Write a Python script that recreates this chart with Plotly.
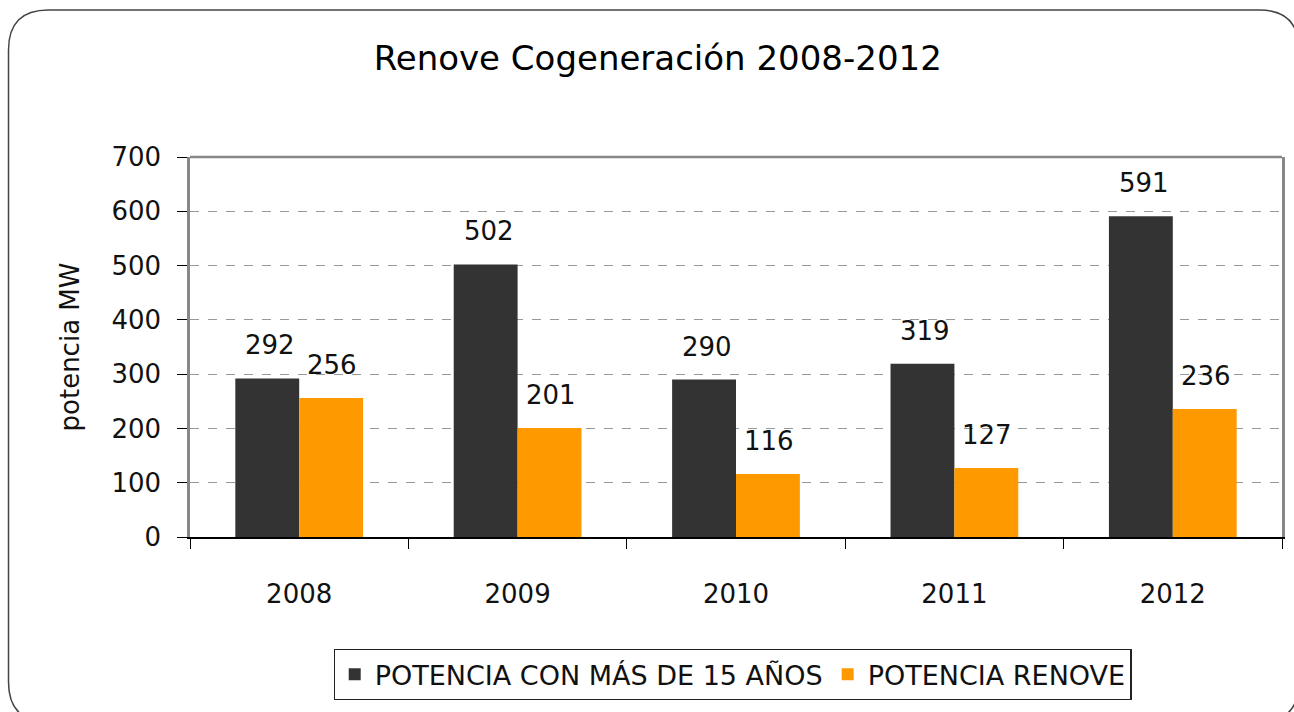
import plotly.graph_objects as go

# data
years = ["2008", "2009", "2010", "2011", "2012"]
potencia_15 = [292, 502, 290, 319, 591]
potencia_renove = [256, 201, 116, 127, 236]
series_names = ["POTENCIA CON MÁS DE 15 AÑOS", "POTENCIA RENOVE"]
y_ticks = [0, 100, 200, 300, 400, 500, 600, 700]

W, H = 1294, 712
L, R, T, B = 190, 1285, 157, 537   # plot area in pixels


def px(x):
    return (x - L) / (R - L)


def py(y):
    return (B - y) / (B - T)


font = "DejaVu Sans"
fig = go.Figure()
fig.add_trace(go.Bar(x=years, y=potencia_15, name=series_names[0],
                     marker_color="#333333", marker_line_width=0))
fig.add_trace(go.Bar(x=years, y=potencia_renove, name=series_names[1],
                     marker_color="#FF9900", marker_line_width=0))

# value labels above the bars (x given as category index)
for vals, shift in [(potencia_15, -29), (potencia_renove, 33)]:
    for i, v in enumerate(vals):
        fig.add_annotation(x=i, y=v, text=str(v), showarrow=False,
                           xshift=shift, yshift=33, yanchor="middle",
                           font=dict(family=font, size=26, color="#111"))

# rounded outer frame
x0, y0, x1, y1, r = 8, 10, 1302, 722, 40
path = (f"M {px(x0):.4f},{py(y0 + r):.4f} Q {px(x0):.4f},{py(y0):.4f} {px(x0 + r):.4f},{py(y0):.4f} "
        f"L {px(x1 - r):.4f},{py(y0):.4f} Q {px(x1):.4f},{py(y0):.4f} {px(x1):.4f},{py(y0 + r):.4f} "
        f"L {px(x1):.4f},{py(y1 - r):.4f} Q {px(x1):.4f},{py(y1):.4f} {px(x1 - r):.4f},{py(y1):.4f} "
        f"L {px(x0 + r):.4f},{py(y1):.4f} Q {px(x0):.4f},{py(y1):.4f} {px(x0):.4f},{py(y1 - r):.4f} Z")
fig.add_shape(type="path", path=path, xref="paper", yref="paper",
              line=dict(color="#444", width=1.5), layer="below")
# top border of plot area
fig.add_shape(type="line", xref="paper", yref="paper", x0=0, x1=1, y0=1, y1=1,
              line=dict(color="#888", width=2.5))

fig.update_layout(
    width=W, height=H,
    margin=dict(l=L, r=W - R, t=T, b=H - B),
    paper_bgcolor="white", plot_bgcolor="white",
    barmode="group", bargap=0.415, bargroupgap=0,
    title=dict(text="Renove Cogeneración 2008-2012", x=px(659), xanchor="center",
               xref="paper", y=1 - 58 / H, yanchor="middle",
               font=dict(family=font, size=34, color="black")),
    font=dict(family=font, color="black"),
    legend=dict(orientation="h", x=px(734), xanchor="center", y=py(649), yanchor="top",
                bordercolor="#222", borderwidth=1.2,
                font=dict(family=font, size=27, color="#111"),
                itemwidth=30),
    showlegend=True,
)
fig.update_xaxes(type="category", range=[-0.5, 4.5], tickson="boundaries",
                 ticks="outside", ticklen=10,
                 tickcolor="black", showline=True, linecolor="black", linewidth=1.5,
                 showgrid=False, ticklabelstandoff=33, tickangle=0,
                 tickfont=dict(family=font, size=26, color="#111"))
fig.update_yaxes(range=[0, 700], tickvals=y_ticks, ticks="outside", ticklen=10,
                 tickcolor="black", showline=True, linecolor="#888", linewidth=2.5,
                 mirror=True, zeroline=False, showgrid=True, gridcolor="#999",
                 griddash="dash", gridwidth=1, ticklabelstandoff=11,
                 tickfont=dict(family=font, size=26, color="#111"),
                 title=dict(text="potencia MW", standoff=25,
                            font=dict(family=font, size=26, color="#111")))

fig.write_html("out.html", config={"displayModeBar": False},
               post_script="document.body.style.margin='0';")
